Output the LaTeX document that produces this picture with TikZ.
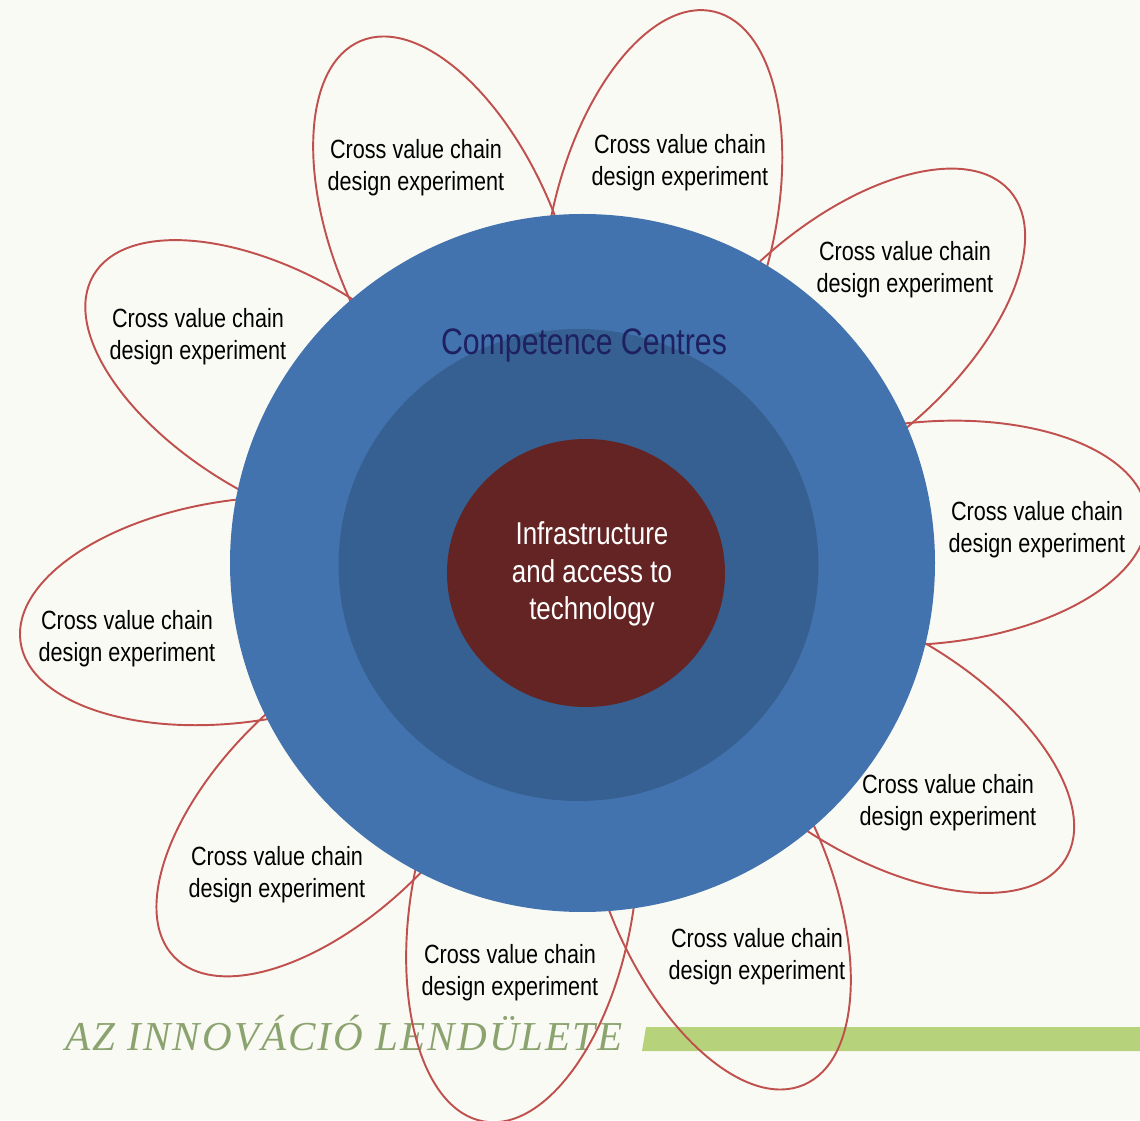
\documentclass[tikz,border=0pt]{standalone}
\usepackage{fontspec}
\setmainfont{Liberation Sans}
\newfontfamily\narrowfont[FakeStretch=0.82]{Liberation Sans}
\newfontfamily\mottofont[LetterSpace=5]{Liberation Serif}
\definecolor{cream}{HTML}{FAFAF5}
\definecolor{outerblue}{HTML}{4373AE}
\definecolor{midblue}{HTML}{366092}
\definecolor{coremaroon}{HTML}{632423}
\definecolor{petalred}{HTML}{C0504D}
\definecolor{navytext}{HTML}{1E2060}
\definecolor{mottogreen}{HTML}{8BA36E}
\definecolor{bargreen}{HTML}{B6D37C}
\tikzset{
    petal/.style={draw=petalred, line width=1.1pt},
    petaltext/.style={align=center, inner sep=0pt, font=\narrowfont\fontsize{15}{18.1}\selectfont}
}
\begin{document}
\begin{tikzpicture}[x=0.02cm, y=0.02cm]
        \fill[cream] (0, 0) rectangle (1140, 1120);
        \useasboundingbox (0, 0) rectangle (1140, 1120);
        \coordinate (hub) at (582, 557);

        \node (motto) at (65, 70)[anchor=base west, inner sep=0pt, text=mottogreen,
            font=\mottofont\itshape\fontsize{23.4}{23.4}\selectfont]{AZ INNOVÁCIÓ LENDÜLETE};
        \fill[bargreen] (646, 93) -- (1140, 93) -- (1140, 69) -- (642, 69) -- cycle;

        \foreach \ang/\tx/\ty [count=\i] in {113/416/952, 76.5/680/957, 41/905/850, 5/1037/590,
            -31.5/948/317, -67/757/163, -100/510/147, -136/277/245, -172/127/481, 149.5/198/783}
            {
                \draw[petal, shift={(hub)}, rotate=\ang] (345, 0) ellipse [x radius=222, y radius=111];
                \node (p\i) at (\tx, \ty)[petaltext]{Cross value chain\\design experiment};
            }

        \fill[outerblue] (582.5, 557) ellipse [x radius=352.5, y radius=349];
        \fill[midblue] (578.5, 555) ellipse [x radius=240, y radius=236];
        \fill[coremaroon] (586, 547) ellipse [x radius=139, y radius=134];

        \node (competence) at (584, 765)[anchor=base, inner sep=0pt, text=navytext,
            font=\narrowfont\fontsize{21}{25}\selectfont]{Competence Centres};
        \node (core) at (592, 546)[align=center, inner sep=0pt, text=white,
            font=\narrowfont\fontsize{18}{21.3}\selectfont]{Infrastructure\\and access to\\technology};
    \end{tikzpicture}
\end{document}
